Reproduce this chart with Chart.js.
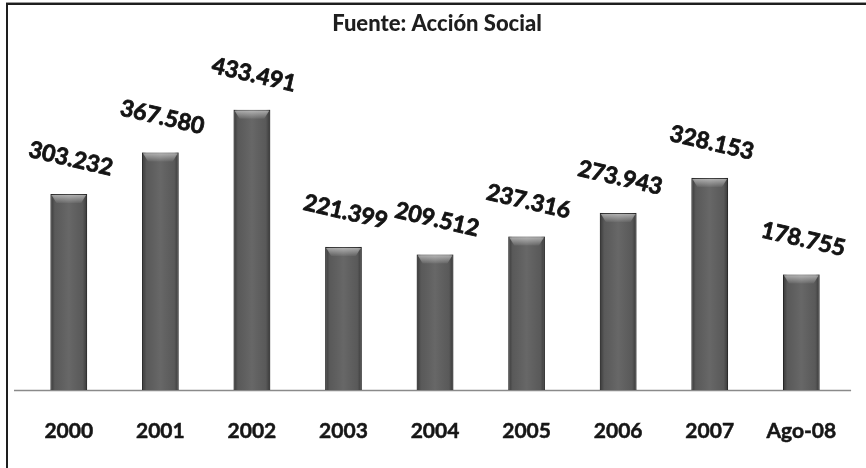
<!DOCTYPE html>
<html>
<head>
<meta charset="utf-8">
<script src="https://cdn.jsdelivr.net/npm/chart.js@4/dist/chart.umd.min.js"></script>
<style>
  html, body { margin: 0; padding: 0; background: #fff; }
  #wrap { width: 866px; height: 468px; position: relative; }
</style>
</head>
<body>
<div id="wrap"><canvas id="chart" width="866" height="468"></canvas></div>
<script>
// Personas desplazadas por año
const years = ['2000', '2001', '2002', '2003', '2004', '2005', '2006', '2007', 'Ago-08'];
const displaced = [303232, 367580, 433491, 221399, 209512, 237316, 273943, 328153, 178755];
const chartTitle = 'Fuente: Acción Social';

const FONT = 'Lato, "Open Sans", "DejaVu Sans", sans-serif';

// Thousands separated with a dot: 303232 -> 303.232
function fmt(v) {
  return String(v).replace(/\B(?=(\d{3})+(?!\d))/g, '.');
}

// White page with a dark frame line on the top and left edges
const framePlugin = {
  id: 'frame',
  beforeDraw(chart) {
    const ctx = chart.ctx;
    ctx.save();
    ctx.fillStyle = '#ffffff';
    ctx.fillRect(0, 0, chart.width, chart.height);
    ctx.strokeStyle = '#9a9a9a';
    ctx.lineWidth = 1;
    ctx.beginPath();
    ctx.moveTo(6, 2.5); ctx.lineTo(chart.width, 2.5);
    ctx.stroke();
    ctx.strokeStyle = '#1e1e1e';
    ctx.lineWidth = 2;
    ctx.beginPath();
    ctx.moveTo(chart.width, 4);
    ctx.lineTo(7, 4);
    ctx.lineTo(7, chart.height);
    ctx.stroke();
    ctx.restore();
  }
};

// Baseline under the bars, a little wider than the plot area
const baselinePlugin = {
  id: 'baseline',
  beforeDatasetsDraw(chart) {
    const { ctx, chartArea } = chart;
    const y = chart.scales.y.getPixelForValue(0);
    ctx.save();
    ctx.strokeStyle = '#8a8a8a';
    ctx.lineWidth = 1.5;
    ctx.beginPath();
    ctx.moveTo(chartArea.left - 9, y + 0.5);
    ctx.lineTo(chartArea.right + 4, y + 0.5);
    ctx.stroke();
    ctx.restore();
  }
};

// Rounded shading and a bevelled top on every bar, then the tilted value labels
const barStylePlugin = {
  id: 'barStyle',
  afterDatasetsDraw(chart) {
    const ctx = chart.ctx;
    const meta = chart.getDatasetMeta(0);
    const values = chart.data.datasets[0].data;
    meta.data.forEach((bar, i) => {
      const { x, y, base, width } = bar.getProps(['x', 'y', 'base', 'width'], true);
      const left = x - width / 2, right = x + width / 2;
      ctx.save();
      // side shading
      const g = ctx.createLinearGradient(left, 0, right, 0);
      g.addColorStop(0, 'rgba(0,0,0,0.40)');
      g.addColorStop(0.12, 'rgba(0,0,0,0.05)');
      g.addColorStop(0.5, 'rgba(255,255,255,0.06)');
      g.addColorStop(0.88, 'rgba(0,0,0,0.05)');
      g.addColorStop(1, 'rgba(0,0,0,0.40)');
      ctx.fillStyle = g;
      ctx.fillRect(left, y, width, base - y);
      // bevel on top
      const bev = 9;
      const gb = ctx.createLinearGradient(0, y, 0, y + bev);
      gb.addColorStop(0, 'rgba(255,255,255,0.55)');
      gb.addColorStop(1, 'rgba(255,255,255,0.05)');
      ctx.fillStyle = gb;
      ctx.beginPath();
      ctx.moveTo(left + 1, y + 1);
      ctx.lineTo(right - 1, y + 1);
      ctx.lineTo(right - 6, y + bev);
      ctx.lineTo(left + 6, y + bev);
      ctx.closePath();
      ctx.fill();
      ctx.restore();

      // value label
      ctx.save();
      ctx.translate(x + 2, y - 35);
      ctx.rotate(13 * Math.PI / 180);
      ctx.font = 'bold 23px ' + FONT;
      ctx.fillStyle = '#141414';
      ctx.strokeStyle = '#141414';
      ctx.lineWidth = 0.8;
      ctx.textAlign = 'center';
      ctx.textBaseline = 'middle';
      ctx.fillText(fmt(values[i]), 0, 0);
      ctx.strokeText(fmt(values[i]), 0, 0);
      ctx.restore();
    });
  }
};

new Chart(document.getElementById('chart'), {
  type: 'bar',
  data: {
    labels: years,
    datasets: [{
      data: displaced,
      backgroundColor: '#5e5e5e',
      borderColor: '#3a3a3a',
      borderWidth: 1,
      barPercentage: 0.4,
      categoryPercentage: 1.0
    }]
  },
  options: {
    responsive: false,
    animation: false,
    devicePixelRatio: 1,
    layout: { padding: { left: 23, right: 15, top: 0, bottom: 0 } },
    plugins: {
      legend: { display: false },
      tooltip: { enabled: false },
      title: {
        display: true,
        text: chartTitle,
        color: '#1e1e1e',
        font: { family: FONT, size: 22, weight: 900, lineHeight: 1.2 },
        padding: { top: 11, bottom: 12.6 }
      }
    },
    scales: {
      x: {
        grid: { display: false, drawTicks: false },
        border: { display: false },
        ticks: {
          color: '#161616',
          padding: 29,
          textStrokeColor: '#161616',
          textStrokeWidth: 0.5,
          font: { family: FONT, size: 21, weight: 'bold' }
        },
        afterFit(scale) { scale.height = 78; }
      },
      y: {
        display: false,
        min: 0,
        max: 526000
      }
    }
  },
  plugins: [framePlugin, baselinePlugin, barStylePlugin]
});
</script>
</body>
</html>
